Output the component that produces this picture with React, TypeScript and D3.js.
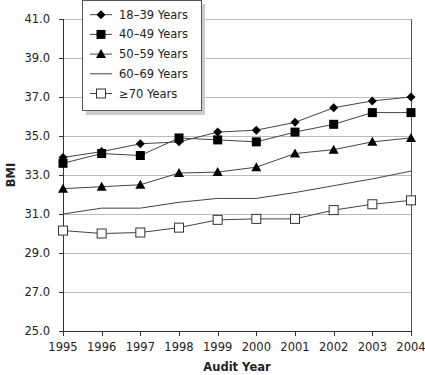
import React from "react";
import * as d3 from "d3";

const years = [1995, 1996, 1997, 1998, 1999, 2000, 2001, 2002, 2003, 2004];
const yTicks = [25, 27, 29, 31, 33, 35, 37, 39, 41];
const seriesNames = ["18\u201339 Years", "40\u201349 Years", "50\u201359 Years", "60\u201369 Years", "\u226570 Years"];
const s18_39 = [33.9, 34.2, 34.6, 34.7, 35.2, 35.3, 35.7, 36.45, 36.8, 37.0];
const s40_49 = [33.6, 34.1, 34.0, 34.9, 34.8, 34.7, 35.2, 35.6, 36.2, 36.2];
const s50_59 = [32.3, 32.4, 32.5, 33.1, 33.15, 33.4, 34.1, 34.3, 34.7, 34.9];
const s60_69 = [31.0, 31.3, 31.3, 31.6, 31.8, 31.8, 32.1, 32.45, 32.8, 33.2];
const s70 = [30.15, 30.0, 30.05, 30.3, 30.7, 30.75, 30.75, 31.2, 31.5, 31.7];
const markers = ["diamond", "square", "triangle", "none", "open"];

const W = 425, H = 375;
const left = 63, right = 411, top = 19, bottom = 331;
const FONT = "Verdana, 'DejaVu Sans', sans-serif";
const LINE = "#444";

function Marker({ type, x, y }: { type: string; x: number; y: number }) {
  if (type === "diamond") {
    const r = 4.5;
    return <path d={`M${x},${y - r}L${x + r},${y}L${x},${y + r}L${x - r},${y}Z`} fill="#000" />;
  }
  if (type === "square") {
    const s = 9;
    return <rect x={x - s / 2} y={y - s / 2} width={s} height={s} fill="#000" />;
  }
  if (type === "triangle") {
    const r = 5;
    return <path d={`M${x},${y - r}L${x + r},${y + 4}L${x - r},${y + 4}Z`} fill="#000" />;
  }
  if (type === "open") {
    const s = 10;
    return <rect x={x - s / 2 + 0.5} y={y - s / 2 + 0.5} width={s - 1} height={s - 1} fill="#fff" stroke="#333" strokeWidth={1} />;
  }
  return null;
}

export default function App() {
  const x = d3.scaleLinear().domain([1995, 2004]).range([left, right]);
  const y = d3.scaleLinear().domain([25, 41]).range([bottom, top]);
  const allSeries = [s18_39, s40_49, s50_59, s60_69, s70];
  const line = d3.line<number>().x((_, i) => x(years[i])).y((d) => y(d));

  return (
    <svg width={W} height={H} style={{ position: "absolute", left: 0, top: 0 }} fontFamily={FONT}>
      <rect x={0} y={0} width={W} height={H} fill="#fff" />
      {yTicks.filter((t) => t !== 25).map((t) => (
        <line key={t} x1={left} x2={right} y1={Math.round(y(t)) + 0.5} y2={Math.round(y(t)) + 0.5} stroke="#bbb" strokeWidth={1} />
      ))}
      <line x1={right + 0.5} x2={right + 0.5} y1={top} y2={bottom} stroke="#555" />
      <line x1={left + 0.5} x2={left + 0.5} y1={top} y2={bottom + 5} stroke="#333" />
      <line x1={left - 4} x2={right} y1={bottom + 0.5} y2={bottom + 0.5} stroke="#333" />
      {yTicks.map((t) => (
        <g key={t}>
          <line x1={left - 4} x2={left} y1={Math.round(y(t)) + 0.5} y2={Math.round(y(t)) + 0.5} stroke="#333" />
          <text x={50} y={y(t)} dy="0.35em" textAnchor="end" fontSize={11.5} fill="#222">{t.toFixed(1)}</text>
        </g>
      ))}
      {years.map((yr) => (
        <g key={yr}>
          <line x1={Math.round(x(yr)) + 0.5} x2={Math.round(x(yr)) + 0.5} y1={bottom} y2={bottom + 5} stroke="#333" />
          <text x={x(yr)} y={347} dy="0.35em" textAnchor="middle" fontSize={11.5} fill="#222">{yr}</text>
        </g>
      ))}
      <text x={237} y={367} dy="0.35em" textAnchor="middle" fontSize={11.5} fontWeight="bold" fill="#222">Audit Year</text>
      <text transform={`translate(11,175) rotate(-90)`} dy="0.35em" textAnchor="middle" fontSize={11.5} fontWeight="bold" fill="#222">BMI</text>
      {allSeries.map((s, i) => (
        <path key={i} d={line(s) || ""} fill="none" stroke={LINE} strokeWidth={1} />
      ))}
      {allSeries.map((s, i) => (
        <g key={i}>
          {s.map((v, j) => <Marker key={j} type={markers[i]} x={x(years[j])} y={y(v)} />)}
        </g>
      ))}
      <rect x={86} y={4} width={119} height={111} fill="#ccc" />
      <rect x={82.5} y={0.5} width={119} height={110} fill="#fff" stroke="#555" />
      {seriesNames.map((n, i) => {
        const ly = 14.7 + i * 19.7;
        return (
          <g key={n}>
            <line x1={90} x2={112} y1={ly} y2={ly} stroke={LINE} />
            <Marker type={markers[i]} x={101} y={ly} />
            <text x={119} y={ly} dy="0.35em" fontSize={11.5} fill="#222">{n}</text>
          </g>
        );
      })}
    </svg>
  );
}
